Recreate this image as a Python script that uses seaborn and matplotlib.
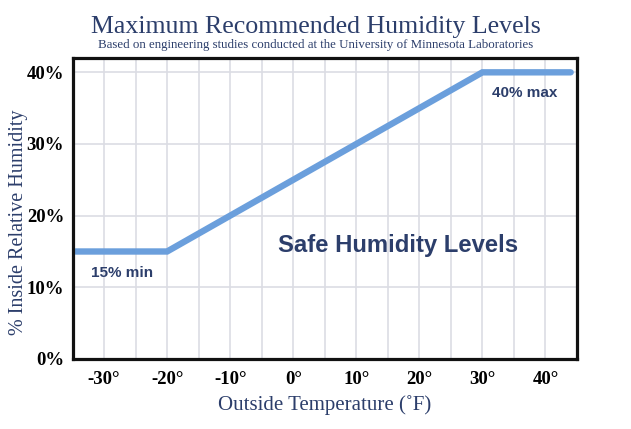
import matplotlib
matplotlib.use("Agg")
import matplotlib.pyplot as plt
import seaborn as sns
import pandas as pd

# Data
temps = [-34.5, -20, 30, 44]
humidity = [15, 15, 40, 40]
x_ticks = [-30, -20, -10, 0, 10, 20, 30, 40]
x_tick_labels = ["-30°", "-20°", "-10°", "0°", "10°", "20°", "30°", "40°"]
y_ticks = [0, 10, 20, 30, 40]
y_tick_labels = ["0%", "10%", "20%", "30%", "40%"]

sns.set_style("white")
navy = "#2c3e6b"
line_color = "#6b9fdc"

fig = plt.figure(figsize=(6.31, 4.29), dpi=100)
ax = fig.add_axes([0.1149, 0.1632, 0.7995, 0.7016])

df = pd.DataFrame({"temp": temps, "hum": humidity})
sns.lineplot(data=df, x="temp", y="hum", ax=ax, color=line_color, linewidth=4.6,
             solid_capstyle="round", solid_joinstyle="miter", zorder=3)

ax.set_xlim(-35, 45)
ax.set_ylim(0, 42)

# grid
for gx in range(-30, 45, 5):
    ax.axvline(gx, color="#dcdde4", linewidth=1.2, zorder=1)
for gy in [10, 20, 30, 40]:
    ax.axhline(gy, color="#dcdde4", linewidth=1.2, zorder=1)

ax.set_xticks(x_ticks)
ax.set_xticklabels(x_tick_labels)
ax.set_yticks(y_ticks)
ax.set_yticklabels(y_tick_labels)
ax.tick_params(axis="both", length=0)
ax.tick_params(axis="x", pad=9)
ax.tick_params(axis="y", pad=6)
for lab in ax.get_xticklabels() + ax.get_yticklabels():
    lab.set_fontfamily("Liberation Serif")
    lab.set_fontweight("bold")
    lab.set_fontsize(13.5)
    lab.set_color("black")

for sp in ax.spines.values():
    sp.set_visible(True)
    sp.set_color("#111111")
    sp.set_linewidth(2.3)
    sp.set_zorder(5)

ax.set_xlabel("Outside Temperature (˚F)", fontfamily="Liberation Serif",
              fontsize=15, color=navy, labelpad=5)
ax.set_ylabel("% Inside Relative Humidity", fontfamily="Liberation Serif",
              fontsize=14.5, color=navy)
ax.yaxis.set_label_coords(-0.088, 0.455)

ax.text(-27.2, 12.0, "15% min", ha="center", va="center", fontsize=11,
        fontweight="bold", color=navy, fontfamily="Liberation Sans")
ax.text(36.7, 37.1, "40% max", ha="center", va="center", fontsize=11,
        fontweight="bold", color=navy, fontfamily="Liberation Sans")
ax.text(16.6, 15.9, "Safe Humidity Levels", ha="center", va="center", fontsize=17.2,
        fontweight="bold", color=navy, fontfamily="Liberation Sans")

fig.text(0.5, 0.937, "Maximum Recommended Humidity Levels", ha="center", va="center",
         fontsize=18.6, color=navy, fontfamily="Liberation Serif")
fig.text(0.5, 0.895, "Based on engineering studies conducted at the University of Minnesota Laboratories",
         ha="center", va="center", fontsize=9.3, color=navy, fontfamily="Liberation Serif")

fig.savefig("out.png", dpi=100)
